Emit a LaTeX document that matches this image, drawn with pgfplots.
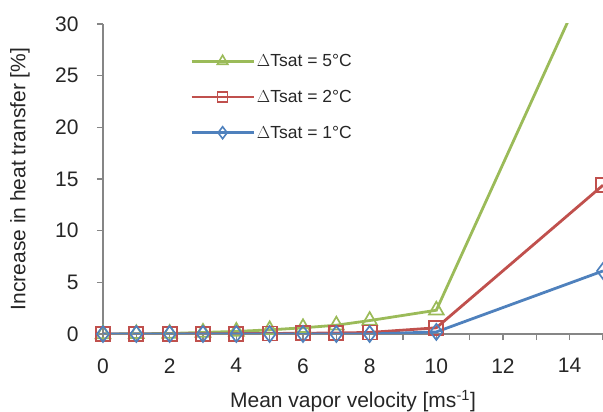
\documentclass[border=0pt]{standalone}
\usepackage{fontspec}
\setmainfont{Liberation Sans}
\usepackage{pgfplots}
\pgfplotsset{compat=1.18}
\definecolor{cgreen}{HTML}{9BBB59}
\definecolor{cred}{HTML}{C0504D}
\definecolor{cblue}{HTML}{4F81BD}
\definecolor{axgray}{HTML}{868686}
\begin{document}
\begin{tikzpicture}
\begin{axis}[
  name=ax,
  width=500pt, height=310pt, scale only axis,
  xmin=0, xmax=15, ymin=0, ymax=30,
  axis lines*=left,
  axis line style={axgray, line width=1.4pt},
  xtick={0,2,...,14}, minor xtick={1,3,...,15}, ytick={0,5,...,30},
  tick align=outside, major tick length=6pt, minor tick length=6pt,
  tick style={axgray, line width=1.1pt},
  ticklabel style={font=\fontsize{21}{24}\selectfont, text=black!85},
  yticklabel style={xshift=-15pt},
  xticklabel style={yshift=-15pt},
  /pgf/number format/assume math mode=true,
  xlabel={Mean vapor velocity [ms\textsuperscript{-1}]},
  ylabel={Increase in heat transfer [\%]},
  every axis x label/.style={at={(axis description cs:0.5,0)}, anchor=base, yshift=-74pt},
  every axis y label/.style={at={(axis description cs:-0.146,0.5)}, rotate=90, anchor=south, inner sep=0pt},
  label style={font=\fontsize{21}{24}\selectfont, text=black!85},
  legend style={at={(0.174,0.909)}, anchor=north west, draw=none, fill=none,
    font=\fontsize{17.5}{20}\selectfont, row sep=18pt, text=black!85, inner sep=0pt},
  legend cell align=left,
  legend image code/.code={%
    \draw[#1, mark=none, line width=2.8pt] (0pt,0pt) -- (62pt,0pt);
    \draw[#1, mark repeat=2, mark phase=2, draw=none] plot coordinates {(0pt,0pt) (31pt,0pt) (62pt,0pt)};},
  every axis plot/.append style={line width=2.8pt, mark options={solid, line width=1.7pt, fill=none}},
]
\addlegendimage{color=cgreen, mark=triangle, mark size=6pt, mark options={solid, draw=cgreen, line width=1.6pt, fill=none}}
\addlegendimage{color=cred, mark=square, mark size=5pt, mark options={solid, draw=cred, line width=1.6pt, fill=none}}
\addlegendimage{color=cblue, mark=diamond, mark size=6pt, mark options={solid, draw=cblue, line width=1.6pt, fill=none}}
\addplot[color=cgreen, mark=triangle, mark size=8.5pt, mark indices={1,2,3,4,5,6,7,8,9,10}] coordinates {
  (0,0) (1,0.02) (2,0.05) (3,0.15) (4,0.25) (5,0.4) (6,0.6) (7,0.85) (8,1.3) (10,2.3) (15,37.7)};
\addplot[color=cred, mark=square, mark size=7pt] coordinates {
  (0,0) (1,0) (2,0) (3,0.02) (4,0.03) (5,0.05) (6,0.07) (7,0.1) (8,0.15) (10,0.6) (15,14.4)};
\addplot[color=cblue, mark=diamond, mark size=8pt] coordinates {
  (0,0) (1,0) (2,0) (3,0) (4,0) (5,0) (6,0) (7,0) (8,0) (10,0.2) (15,6.1)};
\legend{$\Delta$Tsat = 5°C, $\Delta$Tsat = 2°C, $\Delta$Tsat = 1°C}
\end{axis}
\pgfresetboundingbox
\path[use as bounding box] ([xshift=-103pt, yshift=-78pt]ax.south west) rectangle ([yshift=24pt]ax.north east);
\end{tikzpicture}
\end{document}
